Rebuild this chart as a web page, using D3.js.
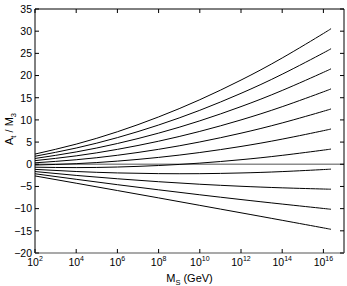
<!DOCTYPE html>
<html>
<head>
<meta charset="utf-8">
<script src="https://cdn.jsdelivr.net/npm/d3@7"></script>
<style>
  body { margin: 0; background: #fff; }
  svg { display: block; font-family: "Liberation Sans", Arial, sans-serif; }
</style>
</head>
<body>
<svg id="chart" width="347" height="286"></svg>
<script>
// M_S sample points (GeV), last one is the end of the curves
const msGeV = [1e2, 1e4, 1e6, 1e8, 1e10, 1e12, 1e14, 1e16, 2.2e16]

// A_t / M_3, top curve to bottom curve
const line1  = [2.30, 4.54, 7.33, 10.67, 14.55, 18.98, 23.96, 29.48, 30.50]
const line2  = [1.81, 3.66, 6.01, 8.85, 12.17, 15.99, 20.30, 25.10, 25.99]
const line3  = [1.31, 2.78, 4.68, 7.02, 9.79, 13.00, 16.64, 20.72, 21.47]
const line4  = [0.82, 1.90, 3.36, 5.20, 7.41, 10.00, 12.98, 16.33, 16.96]
const line5  = [0.33, 1.02, 2.03, 3.37, 5.03, 7.01, 9.32, 11.95, 12.44]
const line6  = [-0.17, 0.14, 0.71, 1.55, 2.65, 4.02, 5.67, 7.57, 7.93]
const line7  = [-0.66, -0.75, -0.62, -0.28, 0.26, 1.03, 2.01, 3.19, 3.41]
const line8  = [-1.15, -1.63, -1.95, -2.11, -2.12, -1.96, -1.65, -1.19, -1.11]
const line9  = [-1.64, -2.51, -3.27, -3.93, -4.50, -4.96, -5.31, -5.58, -5.62]
const line10 = [-2.14, -3.39, -4.60, -5.76, -6.88, -7.95, -8.97, -9.96, -10.14]
const line11 = [-2.63, -4.27, -5.92, -7.58, -9.26, -10.94, -12.63, -14.34, -14.65]
const lines = [line1, line2, line3, line4, line5, line6, line7, line8, line9, line10, line11]

const xTicks = [1e2, 1e4, 1e6, 1e8, 1e10, 1e12, 1e14, 1e16]
const xTickExp = ['2', '4', '6', '8', '10', '12', '14', '16']
const yTicks = [-20, -15, -10, -5, 0, 5, 10, 15, 20, 25, 30, 35]

const pLeft = 35, pRight = 344, pTop = 9, pBottom = 253
const x = d3.scaleLog().domain([1e2, 1e17]).range([pLeft, pRight])
const y = d3.scaleLinear().domain([-20, 35]).range([pBottom, pTop])

const svg = d3.select('#chart')

// zero line (grey)
svg.append('line')
  .attr('x1', pLeft).attr('x2', pRight)
  .attr('y1', y(0)).attr('y2', y(0))
  .attr('stroke', '#8c8c8c').attr('stroke-width', 1.5)

const line = d3.line()
  .x((d, i) => x(msGeV[i]))
  .y(d => y(d))
  .curve(d3.curveNatural)

svg.selectAll('path.curve')
  .data(lines)
  .join('path')
  .attr('class', 'curve')
  .attr('d', line)
  .attr('fill', 'none')
  .attr('stroke', '#000')
  .attr('stroke-width', 1)

// box
svg.append('path')
  .attr('d', `M${pLeft},${pBottom}V${pTop}H${pRight}V${pBottom}`)
  .attr('fill', 'none').attr('stroke', '#000').attr('stroke-width', 1)
svg.append('line')
  .attr('x1', pLeft).attr('x2', pRight)
  .attr('y1', pBottom).attr('y2', pBottom)
  .attr('stroke', '#8c8c8c').attr('stroke-width', 1.6)

const tl = 4
// x ticks, inside, bottom and top
xTicks.forEach(t => {
  svg.append('line').attr('x1', x(t)).attr('x2', x(t))
    .attr('y1', pBottom).attr('y2', pBottom - tl).attr('stroke', '#000')
  svg.append('line').attr('x1', x(t)).attr('x2', x(t))
    .attr('y1', pTop).attr('y2', pTop + tl).attr('stroke', '#000')
})
// y ticks, inside, left and right
yTicks.forEach(t => {
  svg.append('line').attr('x1', pLeft).attr('x2', pLeft + tl)
    .attr('y1', y(t)).attr('y2', y(t)).attr('stroke', '#000')
  svg.append('line').attr('x1', pRight).attr('x2', pRight - tl)
    .attr('y1', y(t)).attr('y2', y(t)).attr('stroke', '#000')
})

// y tick labels
svg.selectAll('text.ylab')
  .data(yTicks)
  .join('text')
  .attr('class', 'ylab')
  .attr('x', 32)
  .attr('y', d => y(d))
  .attr('dy', '0.36em')
  .attr('text-anchor', 'end')
  .attr('font-size', 10.5)
  .text(d => d < 0 ? '\u2212' + Math.abs(d) : d)

// x tick labels 10^n
xTicks.forEach((t, i) => {
  const txt = svg.append('text')
    .attr('x', x(t))
    .attr('y', 266)
    .attr('text-anchor', 'middle')
    .attr('font-size', 10.5)
  txt.append('tspan').text('10')
  txt.append('tspan').attr('dy', -5).attr('font-size', 7).text(xTickExp[i])
})

// axis titles
const xt = svg.append('text')
  .attr('x', (pLeft + pRight) / 2)
  .attr('y', 282)
  .attr('text-anchor', 'middle')
  .attr('font-size', 11)
xt.append('tspan').text('M')
xt.append('tspan').attr('dy', 3).attr('font-size', 7.5).text('S')
xt.append('tspan').attr('dy', -3).text(' (GeV)')

const yt = svg.append('text')
  .attr('transform', `translate(13,129) rotate(-90)`)
  .attr('text-anchor', 'middle')
  .attr('font-size', 11)
yt.append('tspan').text('A')
yt.append('tspan').attr('dy', 3).attr('font-size', 7.5).text('t')
yt.append('tspan').attr('dy', -3).text(' / M')
yt.append('tspan').attr('dy', 3).attr('font-size', 7.5).text('3')
</script>
</body>
</html>
